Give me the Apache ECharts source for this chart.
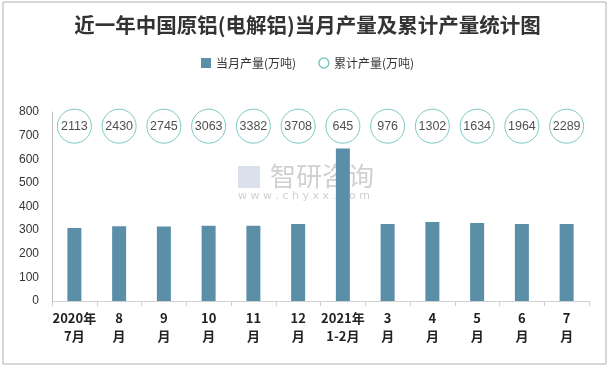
<!DOCTYPE html>
<html><head><meta charset="utf-8">
<script src="https://cdn.jsdelivr.net/npm/echarts@6/dist/echarts.min.js"></script>
<style>html,body{margin:0;padding:0;background:#fff}#c{width:615px;height:368px}</style>
</head><body><div id="c"></div>
<script>
const categories = ['2020年\n7月','8\n月','9\n月','10\n月','11\n月','12\n月','2021年\n1-2月','3\n月','4\n月','5\n月','6\n月','7\n月'];
const monthly = [309, 316, 315, 319, 319, 326, 645, 326, 334, 330, 326, 326];
const cumulative = [2113, 2430, 2745, 3063, 3382, 3708, 645, 976, 1302, 1634, 1964, 2289];
const circleLevel = 740;
const yTicks = [0, 100, 200, 300, 400, 500, 600, 700, 800];

const chart = echarts.init(document.getElementById('c'), null, {renderer: 'canvas'});
chart.setOption({
  animation: false,
  backgroundColor: '#fff',
  title: {
    text: '近一年中国原铝(电解铝)当月产量及累计产量统计图',
    left: 'center', top: 10,
    textStyle: {fontFamily: 'Noto Sans CJK SC', fontWeight: 'bold', fontSize: 20.5, color: '#333'}
  },
  legend: {
    top: 52, left: 'center', itemGap: 22, itemWidth: 10, itemHeight: 10,
    textStyle: {fontFamily: 'Noto Sans CJK SC', fontSize: 12, color: '#333'},
    data: [
      {name: '当月产量(万吨)', icon: 'rect', itemStyle: {color: '#5B8FA8'}},
      {name: '累计产量(万吨)', icon: 'circle', itemStyle: {color: '#fff', borderColor: '#5BBDB5', borderWidth: 1.5}}
    ]
  },
  graphic: [
    {type: 'rect', shape: {x: 3, y: 2, width: 603, height: 362}, style: {fill: 'none', stroke: '#b0b0b0', lineWidth: 1}, z: -1},
    {type: 'text', left: 270, top: 163, style: {text: '智研咨询', fontSize: 26, fill: 'rgba(150,150,150,0.45)', fontFamily: 'Noto Sans CJK SC', letterSpacing: 6}},
    {type: 'text', left: 238, top: 191, style: {text: 'w w w . c h y x x . c o m', fontSize: 11, fill: 'rgba(150,150,150,0.45)', fontFamily: 'DejaVu Sans'}},
    {type: 'rect', shape: {x: 238, y: 166, width: 22, height: 22}, style: {fill: 'rgba(150,170,200,0.35)'}}
  ],
  grid: {left: 52, right: 26, top: 112, bottom: 67},
  xAxis: {
    type: 'category', data: categories,
    axisLine: {lineStyle: {color: '#d0d0d0'}},
    axisTick: {show: true, lineStyle: {color: '#d0d0d0'}, length: 5},
    axisLabel: {interval: 0, color: '#222', fontWeight: 'bold', fontSize: 13, lineHeight: 18, margin: 8, fontFamily: 'Noto Sans CJK SC'}
  },
  yAxis: {
    type: 'value', min: 0, max: 800, interval: 100,
    axisLine: {show: true, lineStyle: {color: '#bdbdbd'}},
    axisTick: {show: false},
    splitLine: {show: false},
    axisLabel: {color: '#333', fontSize: 12, margin: 13, fontFamily: 'Liberation Sans',
      formatter: v => yTicks.includes(v) ? String(v) : ''}
  },
  series: [
    {
      name: '当月产量(万吨)', type: 'bar', data: monthly, barWidth: 14,
      itemStyle: {color: '#5B8FA8'}
    },
    {
      name: '累计产量(万吨)', type: 'scatter', data: cumulative.map(() => circleLevel),
      symbol: 'circle', symbolSize: 34,
      itemStyle: {color: '#fff', borderColor: '#5BBDB5', borderWidth: 1},
      label: {show: true, position: 'inside', color: '#222', fontSize: 12.5, fontFamily: 'Liberation Sans',
        formatter: p => String(cumulative[p.dataIndex])}
    }
  ]
});
</script></body></html>
